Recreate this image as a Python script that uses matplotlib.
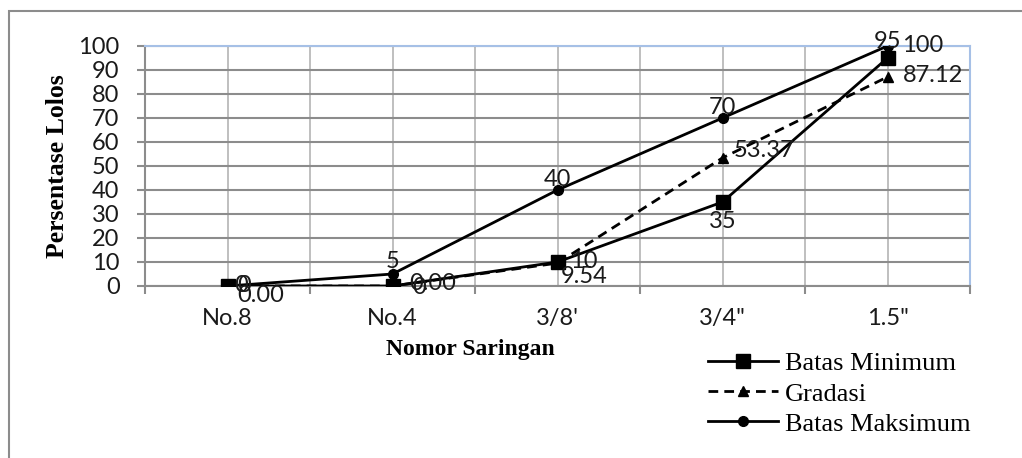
import matplotlib.pyplot as plt
from matplotlib.patches import Rectangle

# data
sieves = ["No.8", "No.4", "3/8'", '3/4"', '1.5"']
batas_min = [0, 0, 10, 35, 95]
gradasi = [0.00, 0.00, 9.54, 53.37, 87.12]
batas_max = [0, 5, 40, 70, 100]

# label offsets (pixels) per point, roughly where excel placed them
min_off = [(7, 0), (20, -2), (13, 0), (0, -19), (0, 16)]
grad_off = [(10, -9), (17, 2), (3, -13), (11, 7), (15, 1)]
max_off = [(10, 0), (0, 13), (0, 11), (0, 11), (15, 0)]

sans = ["Lato", "DejaVu Sans"]
serif = ["Liberation Serif", "DejaVu Serif"]
FS = 17

fig = plt.figure(figsize=(10.22, 4.58), dpi=100)
ax = fig.add_axes([145 / 1022, 1 - 286 / 458, 825 / 1022, 240 / 458])

# outer frame (only top and left visible)
fig.patches.append(Rectangle((9 / 1022, -0.1), 1.2, (1 - 11 / 458) + 0.1,
                             transform=fig.transFigure, fill=False,
                             edgecolor="#8c8c8c", linewidth=1.5))

x = list(range(len(sieves)))
ax.plot(x, batas_min, color="black", lw=2, marker="s", ms=10, label="Batas Minimum", zorder=3)
ax.plot(x, gradasi, color="black", lw=2, ls=(0, (3.5, 2.2)), marker="^", ms=7, label="Gradasi", zorder=3)
ax.plot(x, batas_max, color="black", lw=2, marker="o", ms=7, label="Batas Maksimum", zorder=3)

def put_labels(vals, offs, fmt):
    for xi, v, (dx, dy) in zip(x, vals, offs):
        ax.annotate(fmt.format(v), (xi, v), xytext=(dx, dy), textcoords="offset pixels",
                    ha="center" if dx == 0 else "left", va="center",
                    fontsize=FS, family=sans, color="#1a1a1a", zorder=4,
                    annotation_clip=False)

put_labels(batas_min, min_off, "{:d}")
put_labels(gradasi, grad_off, "{:.2f}")
put_labels(batas_max, max_off, "{:d}")

ax.set_xlim(-0.5, 4.5)
ax.set_ylim(0, 100)
ax.set_yticks(range(0, 101, 10))
ax.set_xticks(x)
ax.set_xticklabels(sieves)
ax.set_xticks([i - 0.5 for i in range(6)], minor=True)

# grid: horizontal darker, vertical at boundaries and centers
ax.yaxis.grid(True, color="#8c8c8c", lw=1.5)
for gx in [i * 0.5 - 0.5 for i in range(11)]:
    ax.axvline(gx, color="#b4b4b4", lw=1.2, zorder=0)
ax.set_axisbelow(True)

ax.tick_params(axis="x", which="major", length=0, pad=16, labelsize=FS)
ax.tick_params(axis="x", which="minor", length=5.8, width=1.5, color="#8c8c8c")
ax.tick_params(axis="y", length=5.8, width=1.5, color="#8c8c8c", labelsize=FS, pad=12.5)
for lab in ax.get_xticklabels() + ax.get_yticklabels():
    lab.set_family(sans)
    lab.set_color("#1a1a1a")

for side in ["left", "bottom"]:
    ax.spines[side].set_color("#8c8c8c")
    ax.spines[side].set_linewidth(1.5)
for side in ["top", "right"]:
    ax.spines[side].set_color("#a6c0e6")
    ax.spines[side].set_linewidth(1.5)

fig.text(470 / 1022, 1 - 350 / 458, "Nomor Saringan", ha="center", va="center",
         fontsize=17, fontweight="bold", family=serif)
fig.text(58 / 1022, 1 - 166 / 458, "Persentase Lolos", ha="center", va="center",
         rotation=90, fontsize=18.5, fontweight="bold", family=serif)

leg = fig.legend(loc="upper left", bbox_to_anchor=(708 / 1022, 1 - 352 / 458),
                 frameon=False, prop={"family": serif, "size": 19},
                 handlelength=2.65, handletextpad=0.27, labelspacing=0.25,
                 borderaxespad=0, borderpad=0)

fig.savefig("out.png", dpi=100)
